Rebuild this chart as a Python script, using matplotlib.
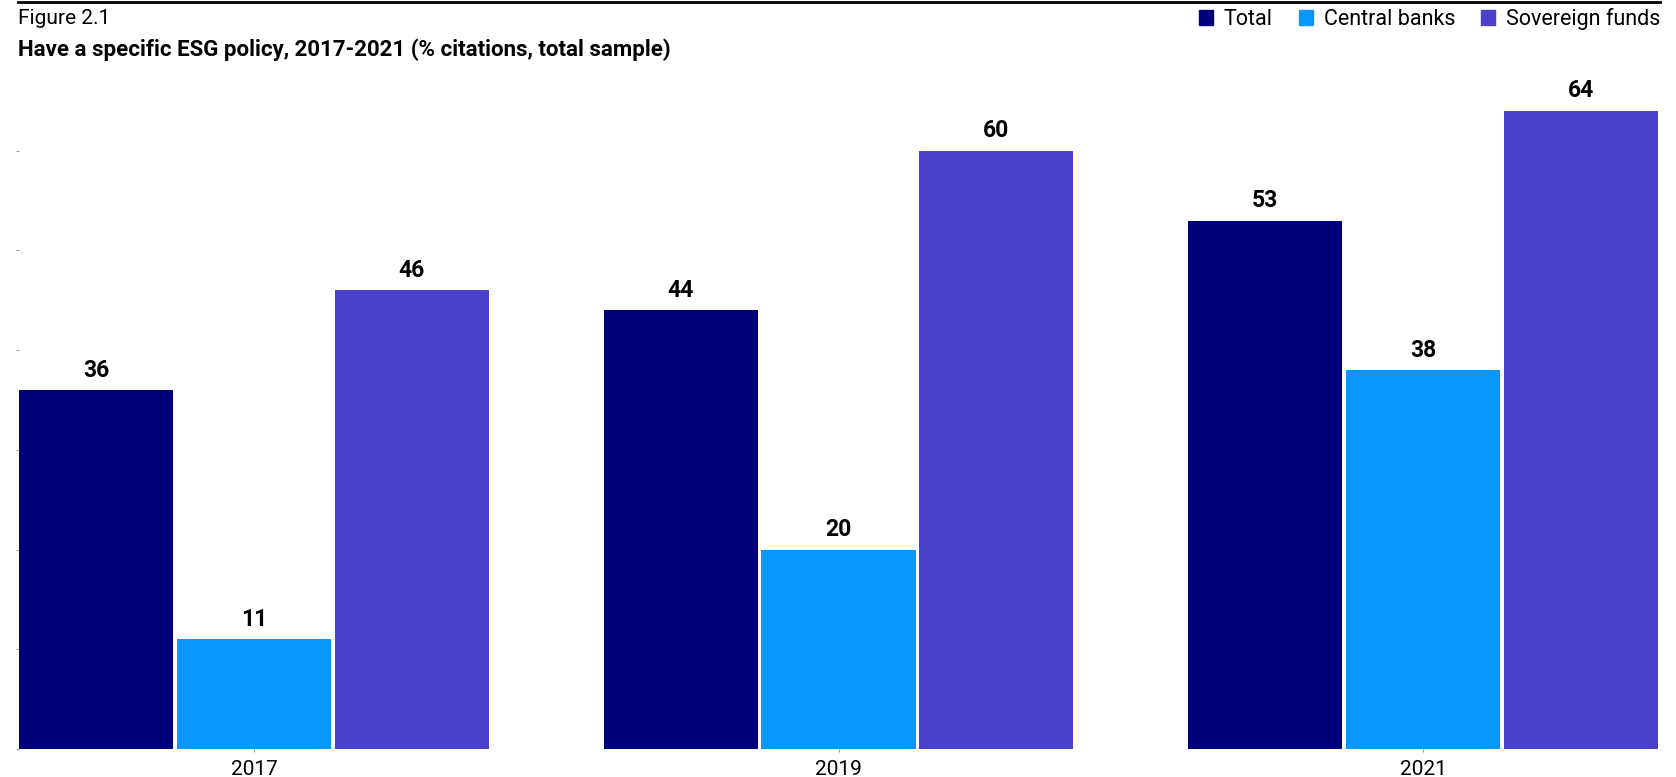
import numpy as np
from matplotlib import pyplot as plt
from matplotlib.lines import Line2D
from matplotlib.patches import Patch

years = ['2017', '2019', '2021']
series = ['Total', 'Central banks', 'Sovereign funds']
total = [36, 44, 53]
central_banks = [11, 20, 38]
sovereign_funds = [46, 60, 64]
colors = ['#00007a', '#0797fb', '#4a40cc']

plt.rcParams['font.family'] = ['Roboto', 'DejaVu Sans']

fig = plt.figure(figsize=(16.76, 7.77), dpi=100)
ax = fig.add_axes([19 / 1676, 1 - 749 / 777, 1639 / 1676, 698 / 777])

x = np.arange(len(years))
step = 0.27
width = 0.264
values = [total, central_banks, sovereign_funds]
for i, (name, vals) in enumerate(zip(series, values)):
    bars = ax.bar(x + (i - 1) * step, vals, width, color=colors[i], label=name)
    for b, v in zip(bars, vals):
        ax.annotate(str(v), (b.get_x() + b.get_width() / 2, v),
                    xytext=(0, 6), textcoords='offset points',
                    ha='center', va='bottom', fontsize=16.5, fontweight='bold')

ax.set_xlim(-0.402, 2.402)
ax.set_ylim(0, 70)
ax.set_xticks(x)
ax.set_xticklabels(years, fontsize=15)
ax.set_yticks(np.arange(0, 70, 10))
ax.set_yticklabels([])
ax.tick_params(axis='both', length=2, width=0.6, color='#888888', pad=6)
for s in ax.spines.values():
    s.set_visible(False)

# header
fig.add_artist(Line2D([18 / 1676, 1660 / 1676], [1 - 2 / 777, 1 - 2 / 777],
                      color='black', linewidth=2))
fig.text(18 / 1676, 1 - 19 / 777, 'Figure 2.1', fontsize=15, va='center')
fig.text(18 / 1676, 1 - 50 / 777,
         'Have a specific ESG policy, 2017-2021 (% citations, total sample)',
         fontsize=16, fontweight='bold', va='center')

handles = [Patch(color=c) for c in colors]
fig.legend(handles, series, loc='center right', bbox_to_anchor=(1660 / 1676, 1 - 19 / 777),
           ncol=3, frameon=False, fontsize=15.5, handlelength=0.65, handleheight=0.65,
           handletextpad=0.5, columnspacing=1.2, borderaxespad=0, borderpad=0)

fig.savefig('out.png', dpi=100)
